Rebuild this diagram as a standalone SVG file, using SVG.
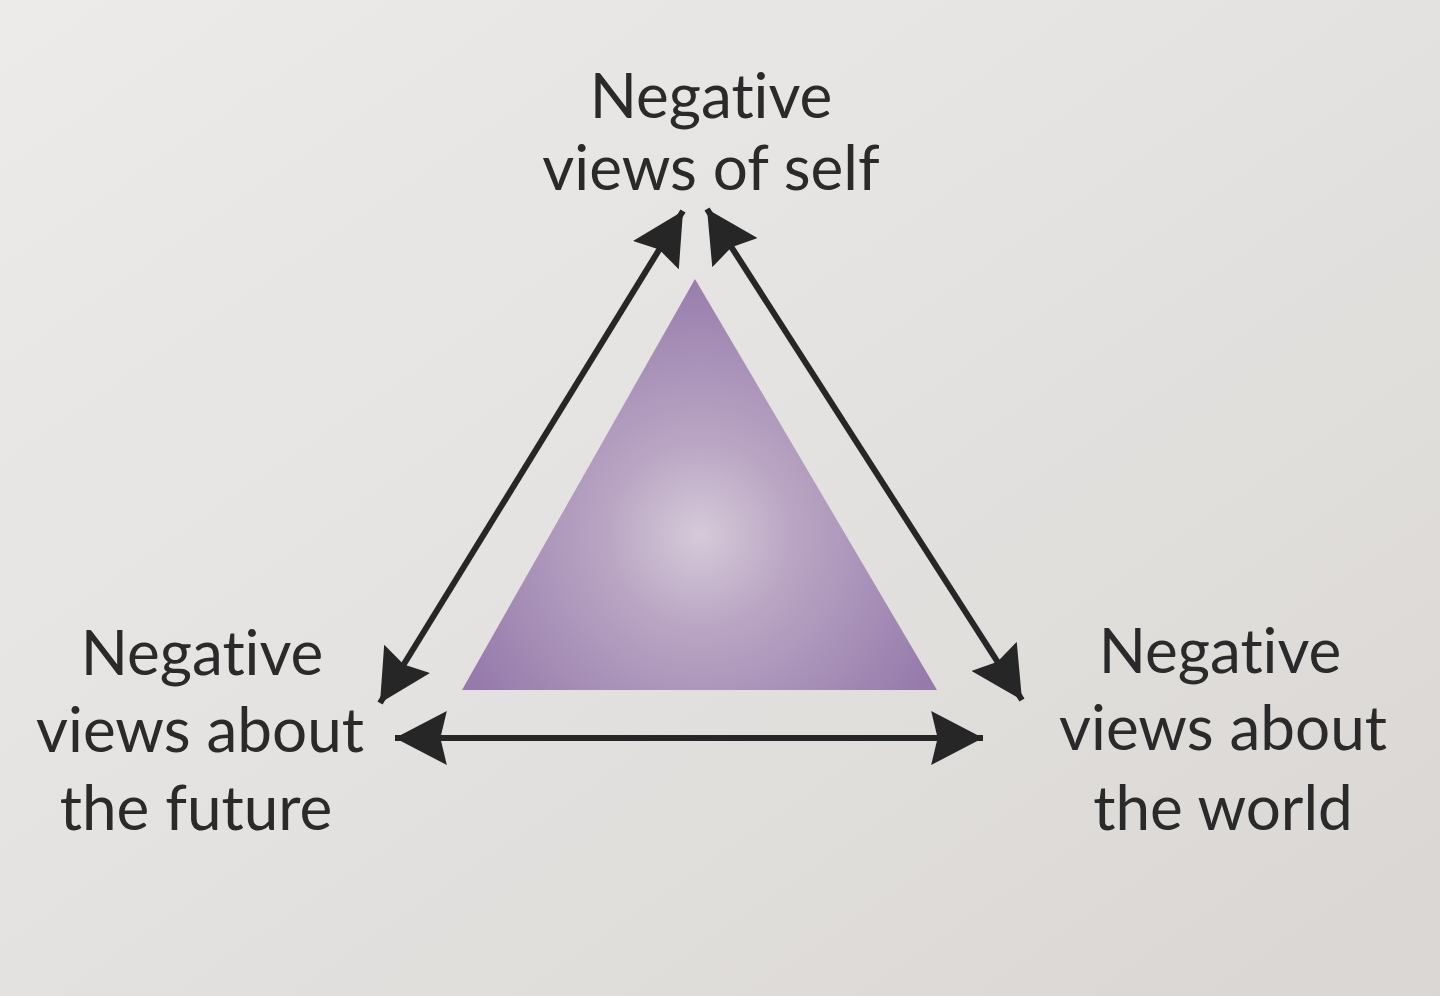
<svg xmlns="http://www.w3.org/2000/svg" width="1440" height="996" viewBox="0 0 1440 996">
  <defs>
    <linearGradient id="bg" x1="0" y1="0" x2="1" y2="1">
      <stop offset="0" stop-color="#ecebe9"/>
      <stop offset="0.5" stop-color="#e4e2e0"/>
      <stop offset="1" stop-color="#d9d6d3"/>
    </linearGradient>
    <radialGradient id="tri" cx="700" cy="535" r="270" gradientUnits="userSpaceOnUse">
      <stop offset="0" stop-color="#d6cad9"/>
      <stop offset="0.35" stop-color="#b9a5c3"/>
      <stop offset="1" stop-color="#957aab"/>
    </radialGradient>
    <marker id="ah" markerUnits="userSpaceOnUse" markerWidth="54" markerHeight="54" refX="48" refY="25" orient="auto-start-reverse" viewBox="0 0 50 50">
      <path d="M0,0 L48,25 L0,50 L6,25 Z" fill="#262626"/>
    </marker>
    <style>
      .lbl { font-family: Lato, "Open Sans", "Liberation Sans", sans-serif; font-size: 62px; fill: #2a2a2a; text-anchor: middle; font-variant-ligatures: none; }
      .conn { stroke: #262626; stroke-width: 6; fill: none; marker-start: url(#ah); marker-end: url(#ah); }
    </style>
  </defs>
  <rect x="0" y="0" width="1440" height="996" fill="url(#bg)"/>

  <g id="core-triangle">
    <polygon points="695,279 462,690 937,690" fill="url(#tri)"/>
  </g>

  <g id="node-self">
    <text class="lbl" x="711" y="118">Negative</text>
    <text class="lbl" x="711" y="190">views of self</text>
  </g>
  <g id="node-future">
    <text class="lbl" x="202" y="675">Negative</text>
    <text class="lbl" x="200" y="752">views about</text>
    <text class="lbl" x="196" y="830">the future</text>
  </g>
  <g id="node-world">
    <text class="lbl" x="1220" y="673">Negative</text>
    <text class="lbl" x="1223" y="750">views about</text>
    <text class="lbl" x="1223" y="830">the world</text>
  </g>

  <g id="connectors">
    <line class="conn" x1="683" y1="211" x2="380" y2="703"/>
    <line class="conn" x1="707" y1="209" x2="1022" y2="700"/>
    <line class="conn" x1="395" y1="738" x2="983" y2="738"/>
  </g>
</svg>
